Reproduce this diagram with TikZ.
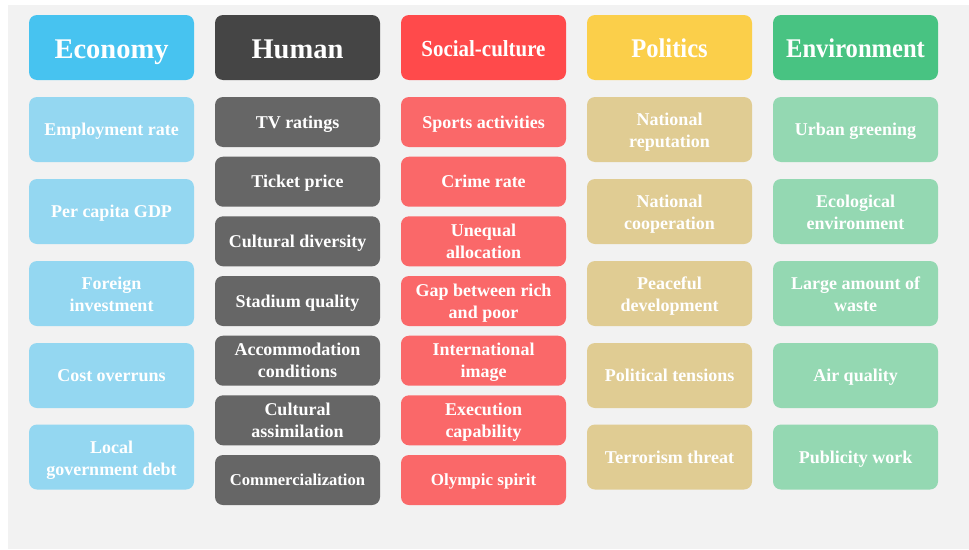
\documentclass[tikz,border=0pt]{standalone}
\usepackage{fontspec}
\setmainfont{Liberation Serif}
\newfontfamily\condfont[FakeStretch=0.91]{Liberation Serif}
\definecolor{bgc}{HTML}{F2F2F2}
\definecolor{ecoH}{HTML}{47C3F0}
\definecolor{ecoS}{HTML}{94D7F1}
\definecolor{humH}{HTML}{454545}
\definecolor{humS}{HTML}{666666}
\definecolor{socH}{HTML}{FF4A4B}
\definecolor{socS}{HTML}{FA6869}
\definecolor{polH}{HTML}{FBCF4A}
\definecolor{polS}{HTML}{E0CC93}
\definecolor{envH}{HTML}{48C382}
\definecolor{envS}{HTML}{94D8B2}
\tikzset{
  anybox/.style={rounded corners=8pt, text=white, inner sep=0pt, align=center,
    minimum width=165pt},
  hd/.style={anybox, fill=#1, minimum height=65pt, text depth=0pt},
  big/.style={anybox, fill=#1, minimum height=65pt,
    font=\bfseries\fontsize{18}{22}\selectfont},
  small/.style={anybox, fill=#1, minimum height=50pt,
    font=\bfseries\fontsize{18}{22}\selectfont},
  one/.style={text height=12pt, text depth=0pt},
  two/.style={text height=#1, text depth=0pt},
  two/.default=36pt,
  hfont/.style={font=\bfseries\fontsize{28.5}{30}\selectfont, text height=21pt},
  cfont/.style={font=\condfont\bfseries\fontsize{27}{30}\selectfont, text height=20pt},
}
\begin{document}
\begin{tikzpicture}[x=1pt,y=-1pt]
\useasboundingbox (0,0) rectangle (969,549);
\fill[bgc] (8,5) rectangle (969,549);
% headers
\node[hd=ecoH, hfont] (econ) at (111.5,47.5) {Economy};
\node[hd=humH, hfont] (human) at (297.5,47.5) {Human};
\node[hd=socH, font=\condfont\bfseries\fontsize{23}{26}\selectfont, text height=17pt] (soc) at (483.5,47.5) {Social-culture};
\node[hd=polH, cfont] (pol) at (669.5,47.5) {Politics};
\node[hd=envH, cfont] (env) at (855.5,47.5) {Environment};
% economy
\node[big=ecoS, one] (e1) at (111.5,129.5) {Employment rate};
\node[big=ecoS, one] (e2) at (111.5,211.5) {Per capita GDP};
\node[big=ecoS, two] (e3) at (111.5,293.5) {Foreign\\investment};
\node[big=ecoS, one] (e4) at (111.5,375.5) {Cost overruns};
\node[big=ecoS, two] (e5) at (111.5,457) {Local\\government debt};
% human
\node[small=humS, one] (h1) at (297.5,122) {TV ratings};
\node[small=humS, one] (h2) at (297.5,181.7) {Ticket price};
\node[small=humS, one] (h3) at (297.5,241.3) {Cultural diversity};
\node[small=humS, one] (h4) at (297.5,301) {Stadium quality};
\node[small=humS, two=34pt] (h5) at (297.5,360.7) {Accommodation\\conditions};
\node[small=humS, two=34pt] (h6) at (297.5,420.3) {Cultural\\assimilation};
\node[small=humS, font=\bfseries\fontsize{16.6}{20}\selectfont, text height=11pt, text depth=0pt] (h7) at (297.5,480) {Commercialization};
% social-culture
\node[small=socS, one] (s1) at (483.5,122) {Sports activities};
\node[small=socS, one] (s2) at (483.5,181.7) {Crime rate};
\node[small=socS, two=34pt] (s3) at (483.5,241.3) {Unequal\\allocation};
\node[small=socS, two=34pt] (s4) at (483.5,301) {Gap between rich\\and poor};
\node[small=socS, two=34pt] (s5) at (483.5,360.7) {International\\image};
\node[small=socS, two=34pt] (s6) at (483.5,420.3) {Execution\\capability};
\node[small=socS, font=\bfseries\fontsize{17}{20}\selectfont, text height=11.3pt, text depth=0pt] (s7) at (483.5,480) {Olympic spirit};
% politics
\node[big=polS, two] (p1) at (669.5,129.5) {National\\reputation};
\node[big=polS, two] (p2) at (669.5,211.5) {National\\cooperation};
\node[big=polS, two] (p3) at (669.5,293.5) {Peaceful\\development};
\node[big=polS, one] (p4) at (669.5,375.5) {Political tensions};
\node[big=polS, one] (p5) at (669.5,457) {Terrorism threat};
% environment
\node[big=envS, one] (v1) at (855.5,129.5) {Urban greening};
\node[big=envS, two] (v2) at (855.5,211.5) {Ecological\\environment};
\node[big=envS, two] (v3) at (855.5,293.5) {Large amount of\\waste};
\node[big=envS, one] (v4) at (855.5,375.5) {Air quality};
\node[big=envS, one] (v5) at (855.5,457) {Publicity work};
\end{tikzpicture}
\end{document}
